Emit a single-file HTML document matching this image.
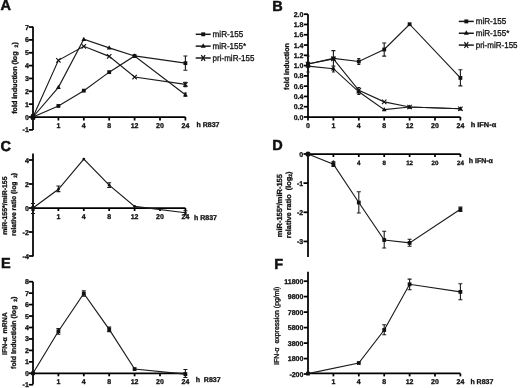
<!DOCTYPE html>
<html><head><meta charset="utf-8"><style>
html,body{margin:0;padding:0;background:#fff;overflow:hidden;width:520px;height:388px;}
svg{display:block;filter:blur(0.3px);}
text{text-rendering:geometricPrecision;font-family:"Liberation Sans",sans-serif;fill:#111;}
</style></head><body>
<svg width="520" height="388" viewBox="0 0 520 388">
<rect width="520" height="388" fill="#fff"/>
<text x="0.45" y="10.4" font-size="14.5" font-weight="bold" stroke="#111" stroke-width="0.5">A</text>
<text x="272.3" y="10.6" font-size="14.5" font-weight="bold" stroke="#111" stroke-width="0.5">B</text>
<text x="0.4" y="151.0" font-size="14.5" font-weight="bold" stroke="#111" stroke-width="0.5">C</text>
<text x="272.3" y="150.3" font-size="14.5" font-weight="bold" stroke="#111" stroke-width="0.5">D</text>
<text x="0.9" y="268.3" font-size="14.5" font-weight="bold" stroke="#111" stroke-width="0.5">E</text>
<text x="274.3" y="268.5" font-size="14.5" font-weight="bold" stroke="#111" stroke-width="0.5">F</text>
<line x1="33.00" y1="26.80" x2="33.00" y2="130.00" stroke="#000" stroke-width="1.75" fill="none"/>
<line x1="28.80" y1="129.85" x2="33.00" y2="129.85" stroke="#000" stroke-width="1.75" fill="none"/>
<text x="28.80" y="132.35" font-size="7" font-weight="bold" text-anchor="end" stroke="#111" stroke-width="0.3" >-1</text>
<line x1="28.80" y1="117.00" x2="33.00" y2="117.00" stroke="#000" stroke-width="1.75" fill="none"/>
<text x="28.80" y="119.50" font-size="7" font-weight="bold" text-anchor="end" stroke="#111" stroke-width="0.3" >0</text>
<line x1="28.80" y1="104.15" x2="33.00" y2="104.15" stroke="#000" stroke-width="1.75" fill="none"/>
<text x="28.80" y="106.65" font-size="7" font-weight="bold" text-anchor="end" stroke="#111" stroke-width="0.3" >1</text>
<line x1="28.80" y1="91.30" x2="33.00" y2="91.30" stroke="#000" stroke-width="1.75" fill="none"/>
<text x="28.80" y="93.80" font-size="7" font-weight="bold" text-anchor="end" stroke="#111" stroke-width="0.3" >2</text>
<line x1="28.80" y1="78.45" x2="33.00" y2="78.45" stroke="#000" stroke-width="1.75" fill="none"/>
<text x="28.80" y="80.95" font-size="7" font-weight="bold" text-anchor="end" stroke="#111" stroke-width="0.3" >3</text>
<line x1="28.80" y1="65.60" x2="33.00" y2="65.60" stroke="#000" stroke-width="1.75" fill="none"/>
<text x="28.80" y="68.10" font-size="7" font-weight="bold" text-anchor="end" stroke="#111" stroke-width="0.3" >4</text>
<line x1="28.80" y1="52.75" x2="33.00" y2="52.75" stroke="#000" stroke-width="1.75" fill="none"/>
<text x="28.80" y="55.25" font-size="7" font-weight="bold" text-anchor="end" stroke="#111" stroke-width="0.3" >5</text>
<line x1="28.80" y1="39.90" x2="33.00" y2="39.90" stroke="#000" stroke-width="1.75" fill="none"/>
<text x="28.80" y="42.40" font-size="7" font-weight="bold" text-anchor="end" stroke="#111" stroke-width="0.3" >6</text>
<line x1="28.80" y1="27.05" x2="33.00" y2="27.05" stroke="#000" stroke-width="1.75" fill="none"/>
<text x="28.80" y="29.55" font-size="7" font-weight="bold" text-anchor="end" stroke="#111" stroke-width="0.3" >7</text>
<line x1="33.00" y1="117.00" x2="185.40" y2="117.00" stroke="#000" stroke-width="1.75" fill="none"/>
<line x1="58.40" y1="117.00" x2="58.40" y2="120.50" stroke="#000" stroke-width="1.75" fill="none"/>
<line x1="83.80" y1="117.00" x2="83.80" y2="120.50" stroke="#000" stroke-width="1.75" fill="none"/>
<line x1="109.20" y1="117.00" x2="109.20" y2="120.50" stroke="#000" stroke-width="1.75" fill="none"/>
<line x1="134.60" y1="117.00" x2="134.60" y2="120.50" stroke="#000" stroke-width="1.75" fill="none"/>
<line x1="160.00" y1="117.00" x2="160.00" y2="120.50" stroke="#000" stroke-width="1.75" fill="none"/>
<line x1="185.40" y1="117.00" x2="185.40" y2="120.50" stroke="#000" stroke-width="1.75" fill="none"/>
<text x="58.40" y="127.60" font-size="7" font-weight="bold" text-anchor="middle" stroke="#111" stroke-width="0.3" >1</text>
<text x="83.80" y="127.60" font-size="7" font-weight="bold" text-anchor="middle" stroke="#111" stroke-width="0.3" >4</text>
<text x="109.20" y="127.60" font-size="7" font-weight="bold" text-anchor="middle" stroke="#111" stroke-width="0.3" >8</text>
<text x="134.60" y="127.60" font-size="7" font-weight="bold" text-anchor="middle" stroke="#111" stroke-width="0.3" >12</text>
<text x="160.00" y="127.60" font-size="7" font-weight="bold" text-anchor="middle" stroke="#111" stroke-width="0.3" >20</text>
<text x="185.40" y="127.60" font-size="7" font-weight="bold" text-anchor="middle" stroke="#111" stroke-width="0.3" >24</text>
<text x="196.50" y="127.00" font-size="7" font-weight="bold" text-anchor="start" stroke="#111" stroke-width="0.3" >h R837</text>
<text transform="translate(16.50,113.80) rotate(-90)" font-size="7.1" font-weight="bold" text-anchor="start" textLength="71.60" lengthAdjust="spacingAndGlyphs" stroke="#111" stroke-width="0.3">fold induction (log&#160; <tspan font-size="5" dy="1">2</tspan><tspan dy="-1">)</tspan></text>
<polyline points="33.00,117.00 58.40,105.95 83.80,90.66 109.20,72.15 134.60,55.96 185.40,63.16" stroke="#1a1a1a" stroke-width="1.15" fill="none"/>
<polyline points="33.00,117.00 58.40,87.32 83.80,39.26 109.20,47.87 134.60,55.96 185.40,94.77" stroke="#1a1a1a" stroke-width="1.15" fill="none"/>
<polyline points="33.00,117.00 58.40,60.33 83.80,46.33 109.20,56.35 134.60,77.04 185.40,84.36" stroke="#1a1a1a" stroke-width="1.15" fill="none"/>
<path d="M185.40,56.00V70.30M183.40,56.00H187.40M183.40,70.30H187.40" stroke="#1a1a1a" stroke-width="1.1" fill="none"/>
<path d="M185.40,82.30V86.60M183.90,82.30H186.90M183.90,86.60H186.90" stroke="#1a1a1a" stroke-width="1.1" fill="none"/>
<path d="M185.40,93.00V96.20M183.90,93.00H186.90M183.90,96.20H186.90" stroke="#1a1a1a" stroke-width="1.1" fill="none"/>
<rect x="31.10" y="115.10" width="3.8" height="3.8" fill="#111"/>
<rect x="56.50" y="104.05" width="3.8" height="3.8" fill="#111"/>
<rect x="81.90" y="88.76" width="3.8" height="3.8" fill="#111"/>
<rect x="107.30" y="70.25" width="3.8" height="3.8" fill="#111"/>
<rect x="132.70" y="54.06" width="3.8" height="3.8" fill="#111"/>
<rect x="183.50" y="61.26" width="3.8" height="3.8" fill="#111"/>
<polygon points="33.00,114.41 30.60,118.73 35.40,118.73" fill="#111"/>
<polygon points="58.40,84.72 56.00,89.04 60.80,89.04" fill="#111"/>
<polygon points="83.80,36.67 81.40,40.99 86.20,40.99" fill="#111"/>
<polygon points="109.20,45.28 106.80,49.60 111.60,49.60" fill="#111"/>
<polygon points="134.60,53.37 132.20,57.69 137.00,57.69" fill="#111"/>
<polygon points="185.40,92.18 183.00,96.50 187.80,96.50" fill="#111"/>
<path d="M30.80,114.80L35.20,119.20M30.80,119.20L35.20,114.80" stroke="#111" stroke-width="1.1"/>
<path d="M56.20,58.13L60.60,62.53M56.20,62.53L60.60,58.13" stroke="#111" stroke-width="1.1"/>
<path d="M81.60,44.12L86.00,48.53M81.60,48.53L86.00,44.12" stroke="#111" stroke-width="1.1"/>
<path d="M107.00,54.15L111.40,58.55M107.00,58.55L111.40,54.15" stroke="#111" stroke-width="1.1"/>
<path d="M132.40,74.84L136.80,79.24M132.40,79.24L136.80,74.84" stroke="#111" stroke-width="1.1"/>
<path d="M183.20,82.16L187.60,86.56M183.20,86.56L187.60,82.16" stroke="#111" stroke-width="1.1"/>
<rect x="31.2" y="114.0" width="3.6" height="6" fill="#111"/>
<line x1="195.70" y1="34.30" x2="210.70" y2="34.30" stroke="#1a1a1a" stroke-width="1.5" fill="none"/>
<rect x="201.25" y="32.35" width="3.9" height="3.9" fill="#111"/>
<text x="212.60" y="37.30" font-size="8.6" textLength="30.6" lengthAdjust="spacingAndGlyphs" stroke="#111" stroke-width="0.3">miR-155</text>
<line x1="195.70" y1="46.15" x2="210.70" y2="46.15" stroke="#1a1a1a" stroke-width="1.5" fill="none"/>
<polygon points="203.20,43.15 200.70,47.65 205.70,47.65" fill="#111"/>
<text x="212.60" y="49.15" font-size="8.6" textLength="33.6" lengthAdjust="spacingAndGlyphs" stroke="#111" stroke-width="0.3">miR-155*</text>
<line x1="195.70" y1="58.00" x2="210.70" y2="58.00" stroke="#1a1a1a" stroke-width="1.5" fill="none"/>
<path d="M201.30,55.10L205.10,60.90M201.30,60.90L205.10,55.10" stroke="#111" stroke-width="1.2"/>
<text x="212.60" y="61.00" font-size="8.6" textLength="41.9" lengthAdjust="spacingAndGlyphs" stroke="#111" stroke-width="0.3">pri-miR-155</text>
<line x1="308.00" y1="14.20" x2="308.00" y2="117.00" stroke="#000" stroke-width="1.75" fill="none"/>
<line x1="303.80" y1="117.00" x2="308.00" y2="117.00" stroke="#000" stroke-width="1.75" fill="none"/>
<text x="303.40" y="119.50" font-size="7" font-weight="bold" text-anchor="end" stroke="#111" stroke-width="0.3" >0.0</text>
<line x1="303.80" y1="106.72" x2="308.00" y2="106.72" stroke="#000" stroke-width="1.75" fill="none"/>
<text x="303.40" y="109.22" font-size="7" font-weight="bold" text-anchor="end" stroke="#111" stroke-width="0.3" >0.2</text>
<line x1="303.80" y1="96.44" x2="308.00" y2="96.44" stroke="#000" stroke-width="1.75" fill="none"/>
<text x="303.40" y="98.94" font-size="7" font-weight="bold" text-anchor="end" stroke="#111" stroke-width="0.3" >0.4</text>
<line x1="303.80" y1="86.16" x2="308.00" y2="86.16" stroke="#000" stroke-width="1.75" fill="none"/>
<text x="303.40" y="88.66" font-size="7" font-weight="bold" text-anchor="end" stroke="#111" stroke-width="0.3" >0.6</text>
<line x1="303.80" y1="75.88" x2="308.00" y2="75.88" stroke="#000" stroke-width="1.75" fill="none"/>
<text x="303.40" y="78.38" font-size="7" font-weight="bold" text-anchor="end" stroke="#111" stroke-width="0.3" >0.8</text>
<line x1="303.80" y1="65.60" x2="308.00" y2="65.60" stroke="#000" stroke-width="1.75" fill="none"/>
<text x="303.40" y="68.10" font-size="7" font-weight="bold" text-anchor="end" stroke="#111" stroke-width="0.3" >1.0</text>
<line x1="303.80" y1="55.32" x2="308.00" y2="55.32" stroke="#000" stroke-width="1.75" fill="none"/>
<text x="303.40" y="57.82" font-size="7" font-weight="bold" text-anchor="end" stroke="#111" stroke-width="0.3" >1.2</text>
<line x1="303.80" y1="45.04" x2="308.00" y2="45.04" stroke="#000" stroke-width="1.75" fill="none"/>
<text x="303.40" y="47.54" font-size="7" font-weight="bold" text-anchor="end" stroke="#111" stroke-width="0.3" >1.4</text>
<line x1="303.80" y1="34.76" x2="308.00" y2="34.76" stroke="#000" stroke-width="1.75" fill="none"/>
<text x="303.40" y="37.26" font-size="7" font-weight="bold" text-anchor="end" stroke="#111" stroke-width="0.3" >1.6</text>
<line x1="303.80" y1="24.48" x2="308.00" y2="24.48" stroke="#000" stroke-width="1.75" fill="none"/>
<text x="303.40" y="26.98" font-size="7" font-weight="bold" text-anchor="end" stroke="#111" stroke-width="0.3" >1.8</text>
<line x1="303.80" y1="14.20" x2="308.00" y2="14.20" stroke="#000" stroke-width="1.75" fill="none"/>
<text x="303.40" y="16.70" font-size="7" font-weight="bold" text-anchor="end" stroke="#111" stroke-width="0.3" >2.0</text>
<line x1="308.00" y1="117.00" x2="460.40" y2="117.00" stroke="#000" stroke-width="1.75" fill="none"/>
<line x1="333.40" y1="117.00" x2="333.40" y2="120.50" stroke="#000" stroke-width="1.75" fill="none"/>
<line x1="358.80" y1="117.00" x2="358.80" y2="120.50" stroke="#000" stroke-width="1.75" fill="none"/>
<line x1="384.20" y1="117.00" x2="384.20" y2="120.50" stroke="#000" stroke-width="1.75" fill="none"/>
<line x1="409.60" y1="117.00" x2="409.60" y2="120.50" stroke="#000" stroke-width="1.75" fill="none"/>
<line x1="435.00" y1="117.00" x2="435.00" y2="120.50" stroke="#000" stroke-width="1.75" fill="none"/>
<line x1="460.40" y1="117.00" x2="460.40" y2="120.50" stroke="#000" stroke-width="1.75" fill="none"/>
<text x="308.00" y="127.50" font-size="7" font-weight="bold" text-anchor="middle" stroke="#111" stroke-width="0.3" >0</text>
<text x="333.40" y="127.50" font-size="7" font-weight="bold" text-anchor="middle" stroke="#111" stroke-width="0.3" >1</text>
<text x="358.80" y="127.50" font-size="7" font-weight="bold" text-anchor="middle" stroke="#111" stroke-width="0.3" >4</text>
<text x="384.20" y="127.50" font-size="7" font-weight="bold" text-anchor="middle" stroke="#111" stroke-width="0.3" >8</text>
<text x="409.60" y="127.50" font-size="7" font-weight="bold" text-anchor="middle" stroke="#111" stroke-width="0.3" >12</text>
<text x="435.00" y="127.50" font-size="7" font-weight="bold" text-anchor="middle" stroke="#111" stroke-width="0.3" >20</text>
<text x="460.40" y="127.50" font-size="7" font-weight="bold" text-anchor="middle" stroke="#111" stroke-width="0.3" >24</text>
<line x1="308.00" y1="117.00" x2="308.00" y2="120.50" stroke="#000" stroke-width="1.75" fill="none"/>
<text x="470.70" y="127.20" font-size="7" font-weight="bold" text-anchor="start" stroke="#111" stroke-width="0.3" textLength="25.5" lengthAdjust="spacingAndGlyphs">h IFN-&#945;</text>
<text transform="translate(288.60,89.90) rotate(-90)" font-size="7.0" font-weight="bold" text-anchor="start" textLength="46.70" lengthAdjust="spacingAndGlyphs" stroke="#111" stroke-width="0.3">fold induction</text>
<polyline points="308.00,64.06 333.40,58.40 358.80,61.49 384.20,49.51 409.60,24.22 460.40,77.94" stroke="#1a1a1a" stroke-width="1.15" fill="none"/>
<polyline points="308.00,66.11 333.40,68.68 358.80,91.81 384.20,109.60 409.60,106.98 460.40,108.78" stroke="#1a1a1a" stroke-width="1.15" fill="none"/>
<polyline points="308.00,64.06 333.40,58.92 358.80,90.27 384.20,101.89 409.60,106.98 460.40,108.78" stroke="#1a1a1a" stroke-width="1.15" fill="none"/>
<path d="M308.00,56.00V72.00M306.40,56.00H309.60M306.40,72.00H309.60" stroke="#1a1a1a" stroke-width="1.1" fill="none"/>
<path d="M333.40,50.60V66.00M331.40,50.60H335.40M331.40,66.00H335.40" stroke="#1a1a1a" stroke-width="1.1" fill="none"/>
<path d="M333.40,67.00V72.00M331.90,67.00H334.90M331.90,72.00H334.90" stroke="#1a1a1a" stroke-width="1.1" fill="none"/>
<path d="M358.80,58.50V64.50M357.30,58.50H360.30M357.30,64.50H360.30" stroke="#1a1a1a" stroke-width="1.1" fill="none"/>
<path d="M358.80,87.50V94.50M357.30,87.50H360.30M357.30,94.50H360.30" stroke="#1a1a1a" stroke-width="1.1" fill="none"/>
<path d="M384.20,43.00V56.10M382.20,43.00H386.20M382.20,56.10H386.20" stroke="#1a1a1a" stroke-width="1.1" fill="none"/>
<path d="M460.40,69.80V85.90M458.40,69.80H462.40M458.40,85.90H462.40" stroke="#1a1a1a" stroke-width="1.1" fill="none"/>
<rect x="306.10" y="62.16" width="3.8" height="3.8" fill="#111"/>
<rect x="331.50" y="56.50" width="3.8" height="3.8" fill="#111"/>
<rect x="356.90" y="59.59" width="3.8" height="3.8" fill="#111"/>
<rect x="382.30" y="47.61" width="3.8" height="3.8" fill="#111"/>
<rect x="407.70" y="22.32" width="3.8" height="3.8" fill="#111"/>
<rect x="458.50" y="76.04" width="3.8" height="3.8" fill="#111"/>
<polygon points="308.00,63.52 305.60,67.84 310.40,67.84" fill="#111"/>
<polygon points="333.40,66.09 331.00,70.41 335.80,70.41" fill="#111"/>
<polygon points="358.80,89.22 356.40,93.54 361.20,93.54" fill="#111"/>
<polygon points="384.20,107.01 381.80,111.33 386.60,111.33" fill="#111"/>
<polygon points="409.60,104.39 407.20,108.70 412.00,108.70" fill="#111"/>
<polygon points="460.40,106.18 458.00,110.50 462.80,110.50" fill="#111"/>
<path d="M305.80,61.86L310.20,66.26M305.80,66.26L310.20,61.86" stroke="#111" stroke-width="1.1"/>
<path d="M331.20,56.72L335.60,61.12M331.20,61.12L335.60,56.72" stroke="#111" stroke-width="1.1"/>
<path d="M356.60,88.07L361.00,92.47M356.60,92.47L361.00,88.07" stroke="#111" stroke-width="1.1"/>
<path d="M382.00,99.69L386.40,104.09M382.00,104.09L386.40,99.69" stroke="#111" stroke-width="1.1"/>
<path d="M407.40,104.78L411.80,109.18M407.40,109.18L411.80,104.78" stroke="#111" stroke-width="1.1"/>
<path d="M458.20,106.58L462.60,110.98M458.20,110.98L462.60,106.58" stroke="#111" stroke-width="1.1"/>
<line x1="458.80" y1="21.40" x2="473.80" y2="21.40" stroke="#1a1a1a" stroke-width="1.5" fill="none"/>
<rect x="464.35" y="19.45" width="3.9" height="3.9" fill="#111"/>
<text x="475.70" y="24.40" font-size="8.6" textLength="30.6" lengthAdjust="spacingAndGlyphs" stroke="#111" stroke-width="0.3">miR-155</text>
<line x1="458.80" y1="33.25" x2="473.80" y2="33.25" stroke="#1a1a1a" stroke-width="1.5" fill="none"/>
<polygon points="466.30,30.25 463.80,34.75 468.80,34.75" fill="#111"/>
<text x="475.70" y="36.25" font-size="8.6" textLength="33.6" lengthAdjust="spacingAndGlyphs" stroke="#111" stroke-width="0.3">miR-155*</text>
<line x1="458.80" y1="45.10" x2="473.80" y2="45.10" stroke="#1a1a1a" stroke-width="1.5" fill="none"/>
<path d="M464.40,42.20L468.20,48.00M464.40,48.00L468.20,42.20" stroke="#111" stroke-width="1.2"/>
<text x="475.70" y="48.10" font-size="8.6" textLength="41.9" lengthAdjust="spacingAndGlyphs" stroke="#111" stroke-width="0.3">pri-miR-155</text>
<line x1="33.00" y1="153.60" x2="33.00" y2="256.50" stroke="#000" stroke-width="1.75" fill="none"/>
<line x1="28.80" y1="160.00" x2="33.00" y2="160.00" stroke="#000" stroke-width="1.75" fill="none"/>
<text x="28.80" y="162.50" font-size="7" font-weight="bold" text-anchor="end" stroke="#111" stroke-width="0.3" >4</text>
<line x1="28.80" y1="184.00" x2="33.00" y2="184.00" stroke="#000" stroke-width="1.75" fill="none"/>
<text x="28.80" y="186.50" font-size="7" font-weight="bold" text-anchor="end" stroke="#111" stroke-width="0.3" >2</text>
<line x1="28.80" y1="208.00" x2="33.00" y2="208.00" stroke="#000" stroke-width="1.75" fill="none"/>
<text x="28.80" y="210.50" font-size="7" font-weight="bold" text-anchor="end" stroke="#111" stroke-width="0.3" >0</text>
<line x1="28.80" y1="232.00" x2="33.00" y2="232.00" stroke="#000" stroke-width="1.75" fill="none"/>
<text x="28.80" y="234.50" font-size="7" font-weight="bold" text-anchor="end" stroke="#111" stroke-width="0.3" >-2</text>
<line x1="28.80" y1="256.00" x2="33.00" y2="256.00" stroke="#000" stroke-width="1.75" fill="none"/>
<text x="28.80" y="258.50" font-size="7" font-weight="bold" text-anchor="end" stroke="#111" stroke-width="0.3" >-4</text>
<line x1="33.00" y1="208.00" x2="185.40" y2="208.00" stroke="#000" stroke-width="1.75" fill="none"/>
<line x1="58.40" y1="208.00" x2="58.40" y2="211.00" stroke="#000" stroke-width="1.75" fill="none"/>
<line x1="83.80" y1="208.00" x2="83.80" y2="211.00" stroke="#000" stroke-width="1.75" fill="none"/>
<line x1="109.20" y1="208.00" x2="109.20" y2="211.00" stroke="#000" stroke-width="1.75" fill="none"/>
<line x1="134.60" y1="208.00" x2="134.60" y2="211.00" stroke="#000" stroke-width="1.75" fill="none"/>
<line x1="160.00" y1="208.00" x2="160.00" y2="211.00" stroke="#000" stroke-width="1.75" fill="none"/>
<line x1="185.40" y1="208.00" x2="185.40" y2="211.00" stroke="#000" stroke-width="1.75" fill="none"/>
<text x="58.40" y="219.20" font-size="7" font-weight="bold" text-anchor="middle" stroke="#111" stroke-width="0.3" >1</text>
<text x="83.80" y="219.20" font-size="7" font-weight="bold" text-anchor="middle" stroke="#111" stroke-width="0.3" >4</text>
<text x="109.20" y="219.20" font-size="7" font-weight="bold" text-anchor="middle" stroke="#111" stroke-width="0.3" >8</text>
<text x="134.60" y="219.20" font-size="7" font-weight="bold" text-anchor="middle" stroke="#111" stroke-width="0.3" >12</text>
<text x="160.00" y="219.20" font-size="7" font-weight="bold" text-anchor="middle" stroke="#111" stroke-width="0.3" >20</text>
<text x="185.40" y="219.20" font-size="7" font-weight="bold" text-anchor="middle" stroke="#111" stroke-width="0.3" >24</text>
<text x="194.00" y="219.60" font-size="7" font-weight="bold" text-anchor="start" stroke="#111" stroke-width="0.3" >h R837</text>
<text transform="translate(6.90,234.80) rotate(-90)" font-size="6.85" font-weight="bold" text-anchor="start" textLength="58.30" lengthAdjust="spacingAndGlyphs" stroke="#111" stroke-width="0.3">miR-155*/miR-155</text>
<text transform="translate(15.90,236.00) rotate(-90)" font-size="6.9" font-weight="bold" text-anchor="start" textLength="63.00" lengthAdjust="spacingAndGlyphs" stroke="#111" stroke-width="0.3">relative ratio (log&#160; <tspan font-size="4.8" dy="1">2</tspan><tspan dy="-1">)</tspan></text>
<polyline points="33.00,208.00 58.40,189.28 83.80,159.04 109.20,185.20 134.60,206.44 185.40,212.80" stroke="#1a1a1a" stroke-width="1.15" fill="none"/>
<path d="M58.40,186.00V191.60M56.40,186.00H60.40M56.40,191.60H60.40" stroke="#1a1a1a" stroke-width="1.1" fill="none"/>
<path d="M109.20,182.70V187.50M107.20,182.70H111.20M107.20,187.50H111.20" stroke="#1a1a1a" stroke-width="1.1" fill="none"/>
<path d="M185.40,210.70V214.90M183.40,210.70H187.40M183.40,214.90H187.40" stroke="#1a1a1a" stroke-width="1.1" fill="none"/>
<circle cx="33.00" cy="208.00" r="1.4" fill="#111"/>
<circle cx="58.40" cy="189.28" r="1.4" fill="#111"/>
<circle cx="83.80" cy="159.04" r="1.4" fill="#111"/>
<circle cx="109.20" cy="185.20" r="1.4" fill="#111"/>
<circle cx="134.60" cy="206.44" r="1.4" fill="#111"/>
<circle cx="185.40" cy="212.80" r="1.4" fill="#111"/>
<rect x="31.4" y="206.0" width="3.2" height="5" fill="#111"/>
<path d="M33.00,203.50V213.50M31.00,203.50H35.00M31.00,213.50H35.00" stroke="#1a1a1a" stroke-width="1.1" fill="none"/>
<line x1="308.00" y1="154.00" x2="308.00" y2="257.00" stroke="#000" stroke-width="1.75" fill="none"/>
<line x1="303.50" y1="154.00" x2="308.00" y2="154.00" stroke="#000" stroke-width="1.75" fill="none"/>
<text x="303.20" y="156.50" font-size="7" font-weight="bold" text-anchor="end" stroke="#111" stroke-width="0.3" >0</text>
<line x1="303.50" y1="183.15" x2="308.00" y2="183.15" stroke="#000" stroke-width="1.75" fill="none"/>
<text x="303.20" y="185.65" font-size="7" font-weight="bold" text-anchor="end" stroke="#111" stroke-width="0.3" >-1</text>
<line x1="303.50" y1="212.30" x2="308.00" y2="212.30" stroke="#000" stroke-width="1.75" fill="none"/>
<text x="303.20" y="214.80" font-size="7" font-weight="bold" text-anchor="end" stroke="#111" stroke-width="0.3" >-2</text>
<line x1="303.50" y1="241.45" x2="308.00" y2="241.45" stroke="#000" stroke-width="1.75" fill="none"/>
<text x="303.20" y="243.95" font-size="7" font-weight="bold" text-anchor="end" stroke="#111" stroke-width="0.3" >-3</text>
<line x1="308.00" y1="154.00" x2="460.40" y2="154.00" stroke="#000" stroke-width="1.75" fill="none"/>
<line x1="333.40" y1="154.00" x2="333.40" y2="157.00" stroke="#000" stroke-width="1.75" fill="none"/>
<line x1="358.80" y1="154.00" x2="358.80" y2="157.00" stroke="#000" stroke-width="1.75" fill="none"/>
<line x1="384.20" y1="154.00" x2="384.20" y2="157.00" stroke="#000" stroke-width="1.75" fill="none"/>
<line x1="409.60" y1="154.00" x2="409.60" y2="157.00" stroke="#000" stroke-width="1.75" fill="none"/>
<line x1="435.00" y1="154.00" x2="435.00" y2="157.00" stroke="#000" stroke-width="1.75" fill="none"/>
<line x1="460.40" y1="154.00" x2="460.40" y2="157.00" stroke="#000" stroke-width="1.75" fill="none"/>
<text x="333.40" y="164.60" font-size="6.2" font-weight="bold" text-anchor="middle" stroke="#111" stroke-width="0.3" >1</text>
<text x="358.80" y="164.60" font-size="6.2" font-weight="bold" text-anchor="middle" stroke="#111" stroke-width="0.3" >4</text>
<text x="384.20" y="164.60" font-size="6.2" font-weight="bold" text-anchor="middle" stroke="#111" stroke-width="0.3" >8</text>
<text x="409.60" y="164.60" font-size="6.2" font-weight="bold" text-anchor="middle" stroke="#111" stroke-width="0.3" >12</text>
<text x="435.00" y="164.60" font-size="6.2" font-weight="bold" text-anchor="middle" stroke="#111" stroke-width="0.3" >20</text>
<text x="460.40" y="164.60" font-size="6.2" font-weight="bold" text-anchor="middle" stroke="#111" stroke-width="0.3" >24</text>
<text x="468.80" y="162.70" font-size="7" font-weight="bold" text-anchor="start" stroke="#111" stroke-width="0.3" >h IFN-&#945;</text>
<text transform="translate(281.50,237.20) rotate(-90)" font-size="7.4" font-weight="bold" text-anchor="start" textLength="63.10" lengthAdjust="spacingAndGlyphs" stroke="#111" stroke-width="0.3">miR-155*/miR-155</text>
<text transform="translate(290.70,238.20) rotate(-90)" font-size="7.3" font-weight="bold" text-anchor="start" textLength="66.70" lengthAdjust="spacingAndGlyphs" stroke="#111" stroke-width="0.3">relative ratio&#160; (log<tspan font-size="4.8" dy="0.8">2</tspan><tspan dy="-0.8">)</tspan></text>
<polyline points="308.00,154.00 333.40,164.26 358.80,202.53 384.20,239.99 409.60,242.91 460.40,209.24" stroke="#1a1a1a" stroke-width="1.15" fill="none"/>
<path d="M333.40,161.90V166.50M331.40,161.90H335.40M331.40,166.50H335.40" stroke="#1a1a1a" stroke-width="1.1" fill="none"/>
<path d="M358.80,191.80V213.00M356.80,191.80H360.80M356.80,213.00H360.80" stroke="#1a1a1a" stroke-width="1.1" fill="none"/>
<path d="M384.20,231.30V248.00M382.20,231.30H386.20M382.20,248.00H386.20" stroke="#1a1a1a" stroke-width="1.1" fill="none"/>
<path d="M409.60,239.30V246.30M407.60,239.30H411.60M407.60,246.30H411.60" stroke="#1a1a1a" stroke-width="1.1" fill="none"/>
<path d="M460.40,207.00V211.50M458.40,207.00H462.40M458.40,211.50H462.40" stroke="#1a1a1a" stroke-width="1.1" fill="none"/>
<circle cx="308.00" cy="154.00" r="2.6" fill="#111"/>
<rect x="331.50" y="162.36" width="3.8" height="3.8" fill="#111"/>
<rect x="356.90" y="200.63" width="3.8" height="3.8" fill="#111"/>
<rect x="382.30" y="238.09" width="3.8" height="3.8" fill="#111"/>
<rect x="407.70" y="241.01" width="3.8" height="3.8" fill="#111"/>
<rect x="458.50" y="207.34" width="3.8" height="3.8" fill="#111"/>
<line x1="33.00" y1="281.70" x2="33.00" y2="384.40" stroke="#000" stroke-width="1.75" fill="none"/>
<line x1="28.80" y1="384.75" x2="33.00" y2="384.75" stroke="#000" stroke-width="1.75" fill="none"/>
<text x="28.80" y="387.25" font-size="7" font-weight="bold" text-anchor="end" stroke="#111" stroke-width="0.3" >-1</text>
<line x1="28.80" y1="373.30" x2="33.00" y2="373.30" stroke="#000" stroke-width="1.75" fill="none"/>
<text x="28.80" y="375.80" font-size="7" font-weight="bold" text-anchor="end" stroke="#111" stroke-width="0.3" >0</text>
<line x1="28.80" y1="361.85" x2="33.00" y2="361.85" stroke="#000" stroke-width="1.75" fill="none"/>
<text x="28.80" y="364.35" font-size="7" font-weight="bold" text-anchor="end" stroke="#111" stroke-width="0.3" >1</text>
<line x1="28.80" y1="350.40" x2="33.00" y2="350.40" stroke="#000" stroke-width="1.75" fill="none"/>
<text x="28.80" y="352.90" font-size="7" font-weight="bold" text-anchor="end" stroke="#111" stroke-width="0.3" >2</text>
<line x1="28.80" y1="338.95" x2="33.00" y2="338.95" stroke="#000" stroke-width="1.75" fill="none"/>
<text x="28.80" y="341.45" font-size="7" font-weight="bold" text-anchor="end" stroke="#111" stroke-width="0.3" >3</text>
<line x1="28.80" y1="327.50" x2="33.00" y2="327.50" stroke="#000" stroke-width="1.75" fill="none"/>
<text x="28.80" y="330.00" font-size="7" font-weight="bold" text-anchor="end" stroke="#111" stroke-width="0.3" >4</text>
<line x1="28.80" y1="316.05" x2="33.00" y2="316.05" stroke="#000" stroke-width="1.75" fill="none"/>
<text x="28.80" y="318.55" font-size="7" font-weight="bold" text-anchor="end" stroke="#111" stroke-width="0.3" >5</text>
<line x1="28.80" y1="304.60" x2="33.00" y2="304.60" stroke="#000" stroke-width="1.75" fill="none"/>
<text x="28.80" y="307.10" font-size="7" font-weight="bold" text-anchor="end" stroke="#111" stroke-width="0.3" >6</text>
<line x1="28.80" y1="293.15" x2="33.00" y2="293.15" stroke="#000" stroke-width="1.75" fill="none"/>
<text x="28.80" y="295.65" font-size="7" font-weight="bold" text-anchor="end" stroke="#111" stroke-width="0.3" >7</text>
<line x1="28.80" y1="281.70" x2="33.00" y2="281.70" stroke="#000" stroke-width="1.75" fill="none"/>
<text x="28.80" y="284.20" font-size="7" font-weight="bold" text-anchor="end" stroke="#111" stroke-width="0.3" >8</text>
<line x1="33.00" y1="373.30" x2="185.40" y2="373.30" stroke="#000" stroke-width="1.75" fill="none"/>
<line x1="58.40" y1="373.30" x2="58.40" y2="376.30" stroke="#000" stroke-width="1.75" fill="none"/>
<line x1="83.80" y1="373.30" x2="83.80" y2="376.30" stroke="#000" stroke-width="1.75" fill="none"/>
<line x1="109.20" y1="373.30" x2="109.20" y2="376.30" stroke="#000" stroke-width="1.75" fill="none"/>
<line x1="134.60" y1="373.30" x2="134.60" y2="376.30" stroke="#000" stroke-width="1.75" fill="none"/>
<line x1="160.00" y1="373.30" x2="160.00" y2="376.30" stroke="#000" stroke-width="1.75" fill="none"/>
<line x1="185.40" y1="373.30" x2="185.40" y2="376.30" stroke="#000" stroke-width="1.75" fill="none"/>
<text x="58.40" y="383.80" font-size="7" font-weight="bold" text-anchor="middle" stroke="#111" stroke-width="0.3" >1</text>
<text x="83.80" y="383.80" font-size="7" font-weight="bold" text-anchor="middle" stroke="#111" stroke-width="0.3" >4</text>
<text x="109.20" y="383.80" font-size="7" font-weight="bold" text-anchor="middle" stroke="#111" stroke-width="0.3" >8</text>
<text x="134.60" y="383.80" font-size="7" font-weight="bold" text-anchor="middle" stroke="#111" stroke-width="0.3" >12</text>
<text x="160.00" y="383.80" font-size="7" font-weight="bold" text-anchor="middle" stroke="#111" stroke-width="0.3" >20</text>
<text x="185.40" y="383.80" font-size="7" font-weight="bold" text-anchor="middle" stroke="#111" stroke-width="0.3" >24</text>
<text x="195.70" y="382.30" font-size="7" font-weight="bold" text-anchor="start" stroke="#111" stroke-width="0.3" >h&#160; R837</text>
<text transform="translate(6.60,355.00) rotate(-90)" font-size="6.9" font-weight="bold" text-anchor="start" textLength="42.70" lengthAdjust="spacingAndGlyphs" stroke="#111" stroke-width="0.3">IFN-&#945;&#160; mRNA</text>
<text transform="translate(15.60,368.90) rotate(-90)" font-size="7.0" font-weight="bold" text-anchor="start" textLength="72.30" lengthAdjust="spacingAndGlyphs" stroke="#111" stroke-width="0.3">fold Inductioin (log&#160; <tspan font-size="4.8" dy="1">2</tspan><tspan dy="-1">)</tspan></text>
<polyline points="33.00,373.30 58.40,331.28 83.80,293.49 109.20,329.33 134.60,369.06 185.40,374.10" stroke="#1a1a1a" stroke-width="1.15" fill="none"/>
<path d="M58.40,328.50V334.20M56.40,328.50H60.40M56.40,334.20H60.40" stroke="#1a1a1a" stroke-width="1.1" fill="none"/>
<path d="M83.80,290.80V296.20M81.80,290.80H85.80M81.80,296.20H85.80" stroke="#1a1a1a" stroke-width="1.1" fill="none"/>
<path d="M109.20,327.00V331.60M107.20,327.00H111.20M107.20,331.60H111.20" stroke="#1a1a1a" stroke-width="1.1" fill="none"/>
<path d="M185.40,369.50V377.50M183.40,369.50H187.40M183.40,377.50H187.40" stroke="#1a1a1a" stroke-width="1.1" fill="none"/>
<circle cx="33.00" cy="373.30" r="2.4" fill="#111"/>
<rect x="56.50" y="329.38" width="3.8" height="3.8" fill="#111"/>
<rect x="81.90" y="291.59" width="3.8" height="3.8" fill="#111"/>
<rect x="107.30" y="327.43" width="3.8" height="3.8" fill="#111"/>
<rect x="132.70" y="367.16" width="3.8" height="3.8" fill="#111"/>
<rect x="183.50" y="372.20" width="3.8" height="3.8" fill="#111"/>
<line x1="308.00" y1="271.70" x2="308.00" y2="374.00" stroke="#000" stroke-width="1.75" fill="none"/>
<line x1="303.80" y1="281.20" x2="308.00" y2="281.20" stroke="#000" stroke-width="1.75" fill="none"/>
<text x="303.40" y="283.70" font-size="7" font-weight="bold" text-anchor="end" stroke="#111" stroke-width="0.3" >11800</text>
<line x1="303.80" y1="296.60" x2="308.00" y2="296.60" stroke="#000" stroke-width="1.75" fill="none"/>
<text x="303.40" y="299.10" font-size="7" font-weight="bold" text-anchor="end" stroke="#111" stroke-width="0.3" >9800</text>
<line x1="303.80" y1="312.10" x2="308.00" y2="312.10" stroke="#000" stroke-width="1.75" fill="none"/>
<text x="303.40" y="314.60" font-size="7" font-weight="bold" text-anchor="end" stroke="#111" stroke-width="0.3" >7800</text>
<line x1="303.80" y1="327.60" x2="308.00" y2="327.60" stroke="#000" stroke-width="1.75" fill="none"/>
<text x="303.40" y="330.10" font-size="7" font-weight="bold" text-anchor="end" stroke="#111" stroke-width="0.3" >5800</text>
<line x1="303.80" y1="343.10" x2="308.00" y2="343.10" stroke="#000" stroke-width="1.75" fill="none"/>
<text x="303.40" y="345.60" font-size="7" font-weight="bold" text-anchor="end" stroke="#111" stroke-width="0.3" >3800</text>
<line x1="303.80" y1="358.60" x2="308.00" y2="358.60" stroke="#000" stroke-width="1.75" fill="none"/>
<text x="303.40" y="361.10" font-size="7" font-weight="bold" text-anchor="end" stroke="#111" stroke-width="0.3" >1800</text>
<line x1="303.80" y1="374.00" x2="308.00" y2="374.00" stroke="#000" stroke-width="1.75" fill="none"/>
<text x="303.40" y="376.50" font-size="7" font-weight="bold" text-anchor="end" stroke="#111" stroke-width="0.3" >-200</text>
<line x1="308.00" y1="373.40" x2="460.40" y2="373.40" stroke="#000" stroke-width="1.75" fill="none"/>
<line x1="333.40" y1="373.40" x2="333.40" y2="376.40" stroke="#000" stroke-width="1.75" fill="none"/>
<line x1="358.80" y1="373.40" x2="358.80" y2="376.40" stroke="#000" stroke-width="1.75" fill="none"/>
<line x1="384.20" y1="373.40" x2="384.20" y2="376.40" stroke="#000" stroke-width="1.75" fill="none"/>
<line x1="409.60" y1="373.40" x2="409.60" y2="376.40" stroke="#000" stroke-width="1.75" fill="none"/>
<line x1="435.00" y1="373.40" x2="435.00" y2="376.40" stroke="#000" stroke-width="1.75" fill="none"/>
<line x1="460.40" y1="373.40" x2="460.40" y2="376.40" stroke="#000" stroke-width="1.75" fill="none"/>
<text x="333.40" y="384.00" font-size="7" font-weight="bold" text-anchor="middle" stroke="#111" stroke-width="0.3" >1</text>
<text x="358.80" y="384.00" font-size="7" font-weight="bold" text-anchor="middle" stroke="#111" stroke-width="0.3" >4</text>
<text x="384.20" y="384.00" font-size="7" font-weight="bold" text-anchor="middle" stroke="#111" stroke-width="0.3" >8</text>
<text x="409.60" y="384.00" font-size="7" font-weight="bold" text-anchor="middle" stroke="#111" stroke-width="0.3" >12</text>
<text x="435.00" y="384.00" font-size="7" font-weight="bold" text-anchor="middle" stroke="#111" stroke-width="0.3" >20</text>
<text x="460.40" y="384.00" font-size="7" font-weight="bold" text-anchor="middle" stroke="#111" stroke-width="0.3" >24</text>
<text x="470.40" y="384.00" font-size="7" font-weight="bold" text-anchor="start" stroke="#111" stroke-width="0.3" >h R837</text>
<text transform="translate(278.60,364.90) rotate(-90)" font-size="7.2" font-weight="normal" text-anchor="start" textLength="78.30" lengthAdjust="spacingAndGlyphs" stroke="#111" stroke-width="0.35">IFN-&#945;&#160; expression (pg/ml)</text>
<polyline points="308.00,373.60 358.80,363.00 384.20,330.00 409.60,284.30 460.40,291.90" stroke="#1a1a1a" stroke-width="1.15" fill="none"/>
<path d="M384.20,324.80V334.80M382.20,324.80H386.20M382.20,334.80H386.20" stroke="#1a1a1a" stroke-width="1.1" fill="none"/>
<path d="M409.60,279.10V289.80M407.60,279.10H411.60M407.60,289.80H411.60" stroke="#1a1a1a" stroke-width="1.1" fill="none"/>
<path d="M460.40,283.70V299.80M458.40,283.70H462.40M458.40,299.80H462.40" stroke="#1a1a1a" stroke-width="1.1" fill="none"/>
<rect x="306.10" y="371.70" width="3.8" height="3.8" fill="#111"/>
<rect x="356.90" y="361.10" width="3.8" height="3.8" fill="#111"/>
<rect x="382.30" y="328.10" width="3.8" height="3.8" fill="#111"/>
<rect x="407.70" y="282.40" width="3.8" height="3.8" fill="#111"/>
<rect x="458.50" y="290.00" width="3.8" height="3.8" fill="#111"/>
</svg>
</body></html>
